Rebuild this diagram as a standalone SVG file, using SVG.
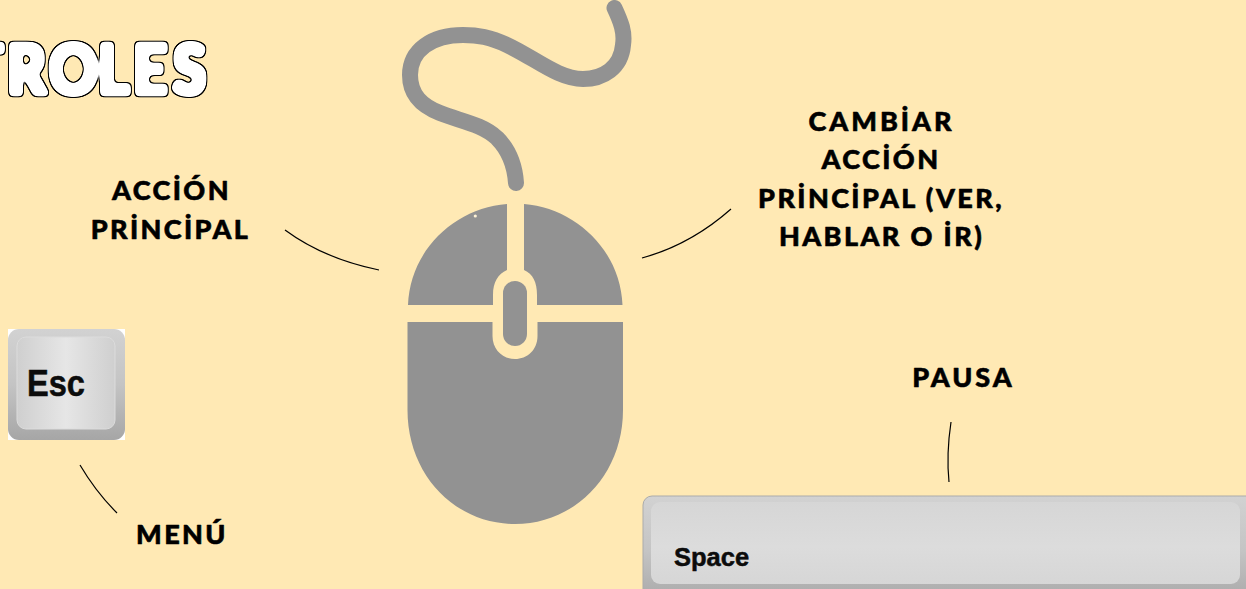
<svg xmlns="http://www.w3.org/2000/svg" width="1246" height="589" viewBox="0 0 1246 589">
<style>
.lbl{font-family:"Lato","Noto Sans",sans-serif;font-weight:900;font-size:27px;letter-spacing:2.4px;fill:#000;stroke:#000;stroke-width:.6px;stroke-linejoin:round;text-anchor:middle}
.wide{letter-spacing:3px}
.conn{fill:none;stroke:#000;stroke-width:1.2px}
.grey{fill:#929292}
.keytxt{font-family:"Liberation Sans",Arial,sans-serif;font-weight:700;fill:#0c0c0c;stroke:#0c0c0c;stroke-width:.5px}
</style>
<defs>
<linearGradient id="kv" x1="0" y1="0" x2="0" y2="1"><stop offset="0" stop-color="#d2d2d2"/><stop offset=".5" stop-color="#c4c4c4"/><stop offset="1" stop-color="#a6a6a6"/></linearGradient>
<linearGradient id="kh" x1="0" y1="0" x2="1" y2="0"><stop offset="0" stop-color="#cfcfcf"/><stop offset=".5" stop-color="#e6e6e6"/><stop offset="1" stop-color="#cfcfcf"/></linearGradient>
<linearGradient id="sv" x1="0" y1="0" x2="0" y2="1"><stop offset="0" stop-color="#d6d6d6"/><stop offset=".55" stop-color="#dcdcdc"/><stop offset="1" stop-color="#d6d6d6"/></linearGradient>
<filter id="bubble" filterUnits="userSpaceOnUse" x="-60" y="10" width="300" height="110" color-interpolation-filters="sRGB">
<feMorphology in="SourceAlpha" operator="dilate" radius="1.6" result="d"/>
<feGaussianBlur in="d" stdDeviation="2" result="b"/>
<feComponentTransfer in="b" result="body"><feFuncA type="linear" slope="8" intercept="-3"/></feComponentTransfer>
<feMorphology in="body" operator="dilate" radius="1" result="o"/>
<feGaussianBlur in="o" stdDeviation=".4" result="oo"/>
<feFlood flood-color="#000"/><feComposite in2="oo" operator="in" result="black"/>
<feFlood flood-color="#fff"/><feComposite in2="body" operator="in" result="white"/>
<feMerge><feMergeNode in="black"/><feMergeNode in="white"/></feMerge>
</filter>
</defs>
<rect width="1246" height="589" fill="#ffe9b4"/>
<g id="title" filter="url(#bubble)"><text transform="translate(0 94) scale(1 1.14)" x="-33 7 49 98 133 173" y="0" font-family="Lato,sans-serif" font-weight="900" font-size="60" fill="#fff">TROLES</text></g>
<g id="mouse">
<path d="M614.500 8C621 22 625 32 623 45C621 68 603 79 583 79C558 79 535 58 507 45C490 37 478 35 463 35C432 35 410 50 410 75C410 95 422 106 440 113C460 121 482 124 497 138C510 151 515 168 516 183" fill="none" stroke="#929292" stroke-width="16" stroke-linecap="round"/>
<path class="grey" d="M408 305C410 250 455 208 507 204L507 270C498 274 493 282 493 295L493 305Z"/>
<path class="grey" d="M622.500 305C620.500 250 575 208 524 204L524 270C533 274 537 282 537 295L537 305Z"/>
<path class="grey" d="M407.500 322L492.500 322L492.500 336C492.500 350 503 359 515 359C527 359 537.500 350 537.500 336L537.500 322L623 322L623 410C623 475 575 524 515 524C455 524 407.500 475 407.500 410Z"/>
<rect class="grey" x="503" y="281" width="24" height="65" rx="12"/>
<circle cx="475.300" cy="216" r="1.600" fill="#fff3d6"/>
</g>
<g id="esc-key">
<rect x="8" y="329" width="117" height="111" fill="#fff"/>
<rect x="8" y="329" width="117" height="111" rx="11" fill="url(#kv)"/>
<rect x="17" y="337" width="98" height="92" rx="9" fill="url(#kh)" stroke="#dcdcdc"/>
<text class="keytxt" x="27" y="396" font-size="37" textLength="58" lengthAdjust="spacingAndGlyphs">Esc</text>
</g>
<g id="space-key">
<rect x="643" y="496" width="620" height="110" rx="9" fill="url(#kv)" stroke="#ababab"/>
<rect x="651" y="502" width="589" height="82" rx="9" fill="url(#sv)"/>
<text class="keytxt" x="674" y="566" font-size="25.500">Space</text>
</g>
<g id="label-accion"><text class="lbl" x="171.500" y="200">ACCİÓN</text><text class="lbl" x="170.500" y="239">PRİNCİPAL</text></g>
<g id="label-cambiar"><text class="lbl wide" x="881.500" y="131">CAMBİAR</text><text class="lbl" x="881" y="169">ACCİÓN</text><text class="lbl" x="881" y="208">PRİNCİPAL (VER,</text><text class="lbl" x="881.500" y="246">HABLAR O İR)</text></g>
<g id="label-pausa"><text class="lbl wide" x="963.500" y="387">PAUSA</text></g>
<g id="label-menu"><text class="lbl" x="182" y="544">MENÚ</text></g>
<g id="connectors">
<path class="conn" d="M285 230C312 250 345 263 379 270"/>
<path class="conn" d="M642 258C675 249 705 232 731 209"/>
<path class="conn" d="M80 465C90 482 103 499 117 513"/>
<path class="conn" d="M951 422C948 442 947 462 949 482"/>
</g>
</svg>
